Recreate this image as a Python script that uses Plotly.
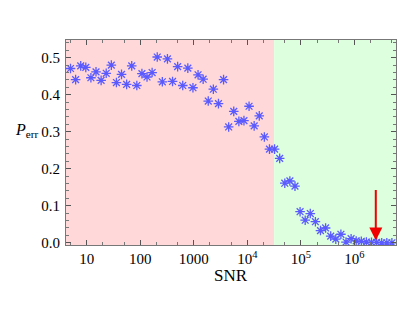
import plotly.graph_objects as go
import math

snr = [5.0, 6.228, 7.752, 9.654, 12.02, 14.97, 18.64, 23.21, 28.91, 35.99,
       44.81, 55.80, 69.49, 86.50, 107.7, 134.1, 167.0, 208.0, 259.0, 322.5,
       401.6, 500.0, 622.6, 775.2, 965.4, 1202, 1497, 1864, 2321, 2891,
       3599, 4481, 5580, 6949, 8650, 10770, 13410, 16700, 20800, 25900,
       32250, 40160, 50000, 62260, 77520, 96540, 120200, 149700, 186400, 232100,
       289100, 359900, 448100, 558000, 694900, 865000, 1077000, 1341000, 1670000, 2080000,
       2590000, 3225000, 4016000, 5000000]
perr = [0.471, 0.441, 0.478, 0.474, 0.446, 0.462, 0.439, 0.458, 0.480, 0.433,
        0.455, 0.428, 0.478, 0.425, 0.457, 0.448, 0.460, 0.502, 0.435, 0.497,
        0.436, 0.476, 0.425, 0.472, 0.419, 0.454, 0.442, 0.383, 0.415, 0.376,
        0.441, 0.313, 0.355, 0.328, 0.330, 0.369, 0.316, 0.343, 0.286, 0.253,
        0.253, 0.228, 0.161, 0.167, 0.153, 0.084, 0.061, 0.079, 0.057, 0.033,
        0.040, 0.018, 0.010, 0.023, 0.002, 0.011, 0.005, 0.004, 0.002, 0.001,
        0.001, 0.000, 0.000, 0.000]

x_tickvals = [10, 100, 1000, 1e4, 1e5, 1e6]
x_ticktext = ["10", "100", "1000", "10<sup>4</sup>", "10<sup>5</sup>", "10<sup>6</sup>"]
y_tickvals = [0.0, 0.1, 0.2, 0.3, 0.4, 0.5]
y_ticktext = ["0.0", "0.1", "0.2", "0.3", "0.4", "0.5"]

x_min, x_max = 4.12, 5.96e6
y_min, y_max = -0.006, 0.548
boundary = 31623
arrow_x = 2.5e6
arrow_top, arrow_tip = 0.147, 0.006

fig = go.Figure()
fig.add_trace(go.Scatter(x=[x_min, boundary, boundary, x_min, x_min],
                         y=[y_min, y_min, y_max, y_max, y_min],
                         fill="toself", fillcolor="rgb(255,217,217)",
                         line=dict(width=0), mode="lines", hoverinfo="skip"))
fig.add_trace(go.Scatter(x=[boundary, x_max, x_max, boundary, boundary],
                         y=[y_min, y_min, y_max, y_max, y_min],
                         fill="toself", fillcolor="rgb(221,255,221)",
                         line=dict(width=0), mode="lines", hoverinfo="skip"))
fig.add_trace(go.Scatter(x=snr, y=perr, mode="markers",
                         marker=dict(symbol="asterisk-open", size=8, color="rgb(90,90,255)",
                                     line=dict(color="rgb(90,90,255)", width=1.3))))

fig.add_annotation(x=math.log10(arrow_x), y=arrow_tip, ax=math.log10(arrow_x), ay=arrow_top,
                   xref="x", yref="y", axref="x", ayref="y", text="",
                   showarrow=True, arrowhead=2, arrowsize=1.3, arrowwidth=2,
                   arrowcolor="rgb(240,0,0)")

font_family = "Liberation Serif"
fig.add_annotation(text="<i>P</i><sub>err</sub>", xref="paper", yref="paper",
                   x=-0.08, y=0.56, xanchor="right", yanchor="middle", showarrow=False,
                   font=dict(family=font_family, size=16, color="black"))
fig.add_annotation(text="SNR", xref="paper", yref="paper",
                   x=0.5, y=-0.15, xanchor="center", yanchor="middle", showarrow=False,
                   font=dict(family=font_family, size=17, color="black"))

axis_common = dict(showgrid=False, zeroline=False, showline=True, linecolor="#777",
                   linewidth=1, mirror="ticks", ticks="inside", tickcolor="#555",
                   automargin=False,
                   tickfont=dict(family=font_family, size=15, color="black"))
fig.update_xaxes(type="log", range=[math.log10(x_min), math.log10(x_max)],
                 tickvals=x_tickvals, ticktext=x_ticktext, ticklen=5,
                 minor=dict(ticks="inside", ticklen=3, tickcolor="#777", showgrid=False),
                 **axis_common)
fig.update_yaxes(range=[y_min, y_max], tickvals=y_tickvals, ticktext=y_ticktext, ticklen=5,
                 ticklabelstandoff=2,
                 minor=dict(ticks="inside", ticklen=3, tickcolor="#777", dtick=0.02, showgrid=False),
                 **axis_common)
fig.update_layout(width=407, height=304, margin=dict(l=58, r=19, t=32, b=67, autoexpand=False),
                  plot_bgcolor="white", paper_bgcolor="white", showlegend=False)
fig.write_html("out.html")
